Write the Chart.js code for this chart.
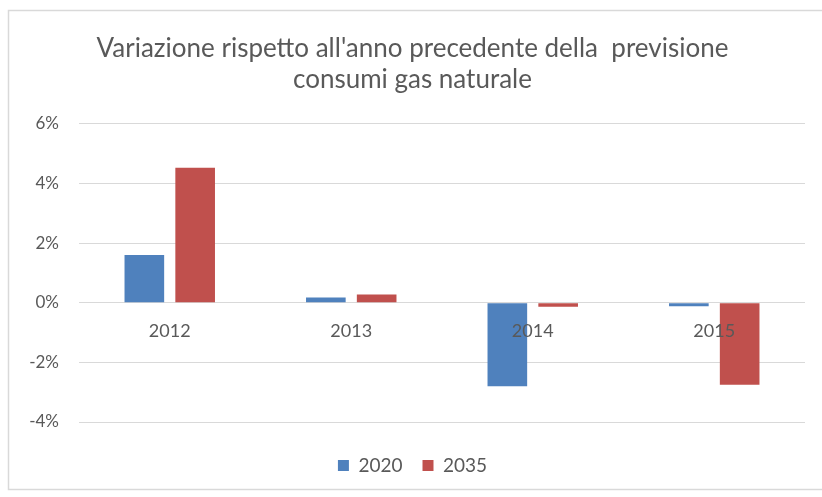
<!DOCTYPE html>
<html>
<head>
<meta charset="utf-8">
<script src="https://cdn.jsdelivr.net/npm/chart.js@4"></script>
<style>
html,body{margin:0;padding:0;background:#fff;}
#wrap{width:822px;height:497px;position:relative;}
</style>
</head>
<body>
<div id="wrap"><canvas id="c" width="822" height="497"></canvas></div>
<script>
const categories = ['2012', '2013', '2014', '2015'];
const series2020 = [1.6, 0.18, -2.8, -0.12];
const series2035 = [4.53, 0.28, -0.13, -2.75];
const seriesNames = ['2020', '2035'];
const titleLines = ["Variazione rispetto all'anno precedente della  previsione", 'consumi gas naturale'];

const FONT = "Lato, 'Open Sans', sans-serif";

const frame = {
  id: 'frame',
  beforeDraw(chart) {
    const ctx = chart.ctx;
    ctx.save();
    ctx.fillStyle = '#fff';
    ctx.fillRect(0, 0, chart.width, chart.height);
    ctx.strokeStyle = '#d9d9d9';
    ctx.lineWidth = 1.5;
    ctx.strokeRect(8.5, 10.5, chart.width + 10, 479);
    ctx.restore();
  }
};

new Chart(document.getElementById('c'), {
  type: 'bar',
  data: {
    labels: categories,
    datasets: [
      { label: seriesNames[0], data: series2020, backgroundColor: '#4F81BD', categoryPercentage: 0.56, barPercentage: 0.78 },
      { label: seriesNames[1], data: series2035, backgroundColor: '#C0504D', categoryPercentage: 0.56, barPercentage: 0.78 }
    ]
  },
  options: {
    responsive: false,
    animation: false,
    layout: { padding: { left: 20, right: 17, top: 33, bottom: 12 } },
    plugins: {
      title: {
        display: true,
        text: titleLines,
        color: '#595959',
        font: { family: FONT, size: 26, weight: 'normal', lineHeight: 1.19 },
        padding: { top: 0, bottom: 29 }
      },
      legend: {
        position: 'bottom',
        labels: {
          color: '#595959',
          font: { family: FONT, size: 19 },
          boxWidth: 11, boxHeight: 11,
          padding: 20
        }
      },
      tooltip: { enabled: false }
    },
    scales: {
      x: {
        position: { y: 0 },
        grid: { display: false },
        border: { display: false },
        ticks: { z: 1, color: '#595959', font: { family: FONT, size: 18 }, padding: 10 }
      },
      xpad: {
        type: 'category',
        position: 'bottom',
        grid: { display: false },
        border: { display: false },
        ticks: { display: false },
        afterFit(scale) { scale.height = 14; }
      },
      y: {
        min: -4, max: 6,
        ticks: {
          stepSize: 2,
          color: '#595959',
          font: { family: FONT, size: 17 },
          padding: 20,
          callback: v => v + '%'
        },
        grid: { color: '#d9d9d9', drawTicks: false },
        border: { display: false },
        afterFit(scale) { scale.width = 59; }
      }
    }
  },
  plugins: [frame]
});
</script>
</body>
</html>
